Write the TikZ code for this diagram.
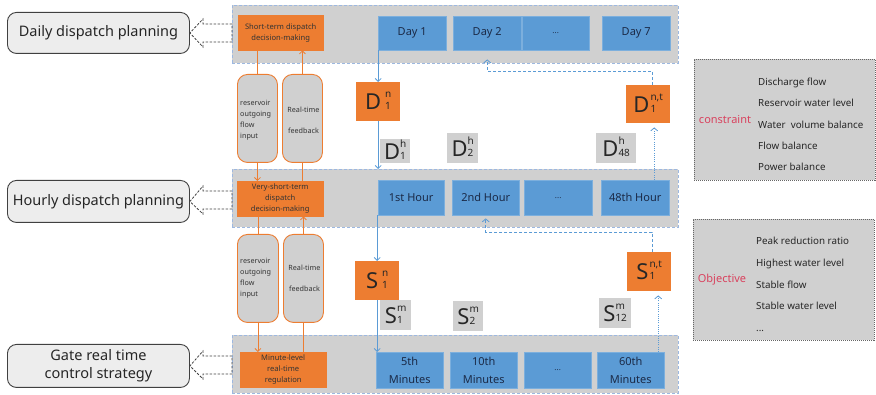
\documentclass[tikz,border=0pt]{standalone}
\usepackage{fontspec}
\setmainfont{Noto Sans}
\usetikzlibrary{arrows.meta,calc}
\definecolor{bandgray}{HTML}{D0D0D0}
\definecolor{bandedge}{HTML}{9DB8E0}
\definecolor{orng}{HTML}{ED7D31}
\definecolor{blu}{HTML}{5B9BD5}
\definecolor{lblfill}{HTML}{EDEDED}
\definecolor{crim}{HTML}{D9425E}
\definecolor{navytext}{HTML}{1B2A47}
\newcommand\bigsym[5]{{\fontsize{22}{22}\selectfont #1}\hspace{#4}\raisebox{5.5pt}{\fontsize{10}{10}\selectfont\begin{tabular}{@{}l@{}}#2\\[#5]#3\end{tabular}}}
\tikzset{
  band/.style={fill=bandgray, draw=bandedge, dash pattern=on 3pt off 2pt, line width=0.8pt, inner sep=0pt, anchor=north west},
  obox/.style={fill=orng, draw=orng, inner sep=0pt, anchor=north west, align=center, font=\fontsize{7.6}{11}\selectfont, text=black!80},
  bbox/.style={fill=blu, draw=blu!80!white, inner sep=0pt, anchor=north west, align=center, font=\fontsize{11}{17.5}\selectfont, text=navytext},
  lbl/.style={rounded corners=9pt, fill=lblfill, draw=black!75, line width=0.9pt, inner sep=0pt, anchor=north west, align=center, font=\fontsize{14.5}{18}\selectfont, text=black!85},
  vbox/.style={rounded corners=10pt, draw=orng, fill=bandgray, line width=0.9pt, inner sep=0pt, anchor=north west},
  dnode/.style={fill=orng, inner sep=0pt, anchor=north west, text=black!85},
  gnode/.style={fill=bandgray, inner sep=0pt, anchor=north west, text=black!85},
  infobox/.style={fill=bandgray, draw=black!60, dash pattern=on 1pt off 1pt, line width=0.7pt, inner sep=0pt, anchor=north west},
  infotext/.style={anchor=west, align=left, font=\fontsize{9.8}{21.3}\selectfont, text=black!85, inner sep=0pt},
  redtext/.style={font=\fontsize{11}{12}\selectfont, text=crim, inner sep=0pt},
  vtext/.style={inner sep=0pt, font=\fontsize{7.2}{11}\selectfont, text=black!80},
  oline/.style={draw=orng, line width=0.8pt},
  otip/.style={oline, -{Straight Barb[length=3pt,width=6pt]}},
  bline/.style={draw=blu, line width=0.8pt, -{Straight Barb[length=3pt,width=6pt]}},
  bdash/.style={draw=blu, line width=0.8pt, dash pattern=on 3pt off 2pt, -{Straight Barb[length=3pt,width=7pt]}},
  bdot/.style={draw=blu, line width=0.8pt, dash pattern=on 1pt off 1.2pt, -{Straight Barb[length=3pt,width=7pt]}},
  linkarrow/.style={draw=black!75, line width=0.8pt, dash pattern=on 2.5pt off 1.5pt}
}
\begin{document}
\begin{tikzpicture}[x=1pt,y=-1pt]
\useasboundingbox (0,0) rectangle (876,395);
% bands
\node[band, minimum width=446pt, minimum height=58pt] (b1) at (232,5) {};
\node[band, minimum width=446pt, minimum height=58pt] (b2) at (232,169) {};
\node[band, minimum width=446pt, minimum height=58pt] (b3) at (232,335) {};
% orange decision boxes
\node[obox, minimum width=85pt, minimum height=35pt] (st) at (238,15) {Short-term dispatch\\decision-making};
\node[obox, minimum width=86pt, minimum height=35pt] (vst) at (237,181) {Very-short-term\\dispatch\\decision-making};
\node[obox, minimum width=86pt, minimum height=35pt] (ml) at (240,352) {Minute-level\\real-time\\regulation};
% blue boxes
\node[bbox, minimum width=68pt, minimum height=34pt] (day1) at (378,16) {Day 1};
\node[bbox, minimum width=68pt, minimum height=34pt] (day2) at (453,16) {Day 2};
\node[bbox, minimum width=67pt, minimum height=34pt] (dayd) at (522,16) {\fontsize{8}{10}\selectfont ...};
\node[bbox, minimum width=68pt, minimum height=34pt] (day7) at (602,16) {Day 7};
\node[bbox, minimum width=66pt, minimum height=35pt] (h1) at (378,180) {1st Hour};
\node[bbox, minimum width=67pt, minimum height=35pt] (h2) at (452,180) {2nd Hour};
\node[bbox, minimum width=68pt, minimum height=35pt] (hd) at (524,180) {\fontsize{8}{10}\selectfont ...};
\node[bbox, minimum width=68pt, minimum height=35pt] (h48) at (601,180) {48th Hour};
\node[bbox, minimum width=67pt, minimum height=36pt] (m5) at (376,352) {5th\\Minutes};
\node[bbox, minimum width=67pt, minimum height=36pt] (m10) at (450,352) {10th\\Minutes};
\node[bbox, minimum width=67pt, minimum height=36pt] (md) at (524,352) {\fontsize{8}{10}\selectfont ...};
\node[bbox, minimum width=67pt, minimum height=36pt] (m60) at (597,352) {60th\\Minutes};
% left labels
\node[lbl, minimum width=182pt, minimum height=41pt] (ldaily) at (7,12) {Daily dispatch planning};
\node[lbl, minimum width=182pt, minimum height=42pt] (lhourly) at (7,180) {Hourly dispatch planning};
\node[lbl, minimum width=182pt, minimum height=43pt] (lgate) at (7,344) {Gate real time\\control strategy};
% dashed block arrows from bands to labels
\draw[linkarrow] (b1.west |- 0,24) -- (203,24) -- (203,19) -- (ldaily.east) -- (203,47) -- (203,42) -- (b1.west |- 0,42) -- cycle;
\draw[linkarrow] (b2.west |- 0,191) -- (203,191) -- (203,186) -- (lhourly.east) -- (203,214) -- (203,209) -- (b2.west |- 0,209) -- cycle;
\draw[linkarrow] (b3.west |- 0,356) -- (203,356) -- (203,351) -- (lgate.east) -- (203,379) -- (203,374) -- (b3.west |- 0,374) -- cycle;
% vertical rounded boxes
\node[vbox, minimum width=40pt, minimum height=88pt] (up1) at (237,74) {};
\node[vbox, minimum width=40pt, minimum height=88pt] (up2) at (282,74) {};
\node[vbox, minimum width=41pt, minimum height=88pt] (lo1) at (237,234) {};
\node[vbox, minimum width=40pt, minimum height=88pt] (lo2) at (283,234) {};
\node[vtext, anchor=west, align=left] (up1t) at ($(up1.west)+(3,2)$) {reservoir\\outgoing\\flow\\input};
\node[vtext, align=center, font=\fontsize{7.2}{21}\selectfont] (up2t) at ($(up2.center)+(1,2)$) {Real-time\\feedback};
\node[vtext, anchor=west, align=left] (lo1t) at ($(lo1.west)+(3,0)$) {reservoir\\outgoing\\flow\\input};
\node[vtext, align=center, font=\fontsize{7.2}{21}\selectfont] (lo2t) at ($(lo2.center)+(1,0)$) {Real-time\\feedback};
% orange connectors
\draw[oline] (up1.north |- st.south) -- (up1.north);
\draw[otip] (up1.south) -- (up1.south |- vst.north);
\draw[oline] (up2.south |- vst.north) -- (up2.south);
\draw[otip] (up2.north) -- (up2.north |- st.south);
\draw[oline] (lo1.north |- vst.south) -- (lo1.north);
\draw[otip] (lo1.south) -- (lo1.south |- ml.north);
\draw[oline] (lo2.south |- ml.north) -- (lo2.south);
\draw[otip] (lo2.north) -- (lo2.north |- vst.south);
% D and S boxes
\node[dnode, minimum width=44pt, minimum height=39pt] (d1n) at (356,82) {\bigsym{D}{n}{1}{4pt}{2pt}};
\node[dnode, minimum width=44pt, minimum height=38pt] (d1nt) at (626,85) {\bigsym{D}{n,t}{1}{1pt}{2pt}};
\node[dnode, minimum width=44pt, minimum height=39pt] (s1n) at (355,261) {\bigsym{S}{n}{1}{4pt}{2pt}};
\node[dnode, minimum width=44pt, minimum height=39pt] (s1nt) at (627,252) {\bigsym{S}{n,t}{1}{1pt}{2pt}};
\node[gnode, minimum width=30pt, minimum height=24pt] (d1h) at (380,139) {\bigsym{D}{h}{1}{0pt}{1.5pt}};
\node[gnode, minimum width=31pt, minimum height=30pt] (d2h) at (447,133) {\bigsym{D}{h}{2}{0pt}{1.5pt}};
\node[gnode, minimum width=40pt, minimum height=30pt] (d48h) at (596,133) {\bigsym{D}{h}{48}{0pt}{1.5pt}};
\node[gnode, minimum width=31pt, minimum height=30pt] (s1m) at (380,300) {\bigsym{S}{m}{1}{0pt}{1.5pt}};
\node[gnode, minimum width=30pt, minimum height=30pt] (s2m) at (453,301) {\bigsym{S}{m}{2}{0pt}{1.5pt}};
\node[gnode, minimum width=32pt, minimum height=30pt] (s12m) at (599,298) {\bigsym{S}{m}{12}{0pt}{1.5pt}};
% blue solid arrows
\draw[bline] (d1n.north |- day1.south) -- (d1n.north);
\draw[bline] (d1n.south) -- (d1n.south |- b2.north);
\draw[bline] (s1n.north |- h1.south) -- (s1n.north);
\draw[bline] (s1n.south) -- (s1n.south |- m5.north);
% blue dashed / dotted feedback arrows
\coordinate (dturn) at ($(d1nt.north)+(4,-14)$);
\coordinate (dend) at ($(day2.south)+(0,9)$);
\draw[bdash] ($(d1nt.north)+(4,0)$) -- (dturn) -| (dend);
\coordinate (dbot) at ($(d1nt.south)+(6,4)$);
\draw[bdot] (h48.north -| dbot) -- (dbot);
\coordinate (sturn) at ($(s1nt.north)+(3,-20)$);
\coordinate (send) at ($(h2.south)+(0,3)$);
\draw[bdash] ($(s1nt.north)+(3,0)$) -- (sturn) -| (send);
\coordinate (sbot) at ($(s1nt.south)+(9,4)$);
\draw[bdot] (m60.north -| sbot) -- (sbot);
% constraint / objective boxes
\node[infobox, minimum width=181pt, minimum height=121pt] (cons) at (694,59) {};
\node[redtext] (constr) at (725,120) {constraint};
\node[infotext] (conlist) at (758,124.5) {Discharge flow\\Reservoir water level\\Water\ \ volume balance\\Flow balance\\Power balance};
\node[infobox, minimum width=181pt, minimum height=121pt] (obj) at (693,219) {};
\node[redtext] (objt) at (722,280) {Objective};
\node[infotext, font=\fontsize{9.8}{21.6}\selectfont] (objlist) at (756,284.5) {Peak reduction ratio\\Highest water level\\Stable flow\\Stable water level\\...};
\end{tikzpicture}
\end{document}
